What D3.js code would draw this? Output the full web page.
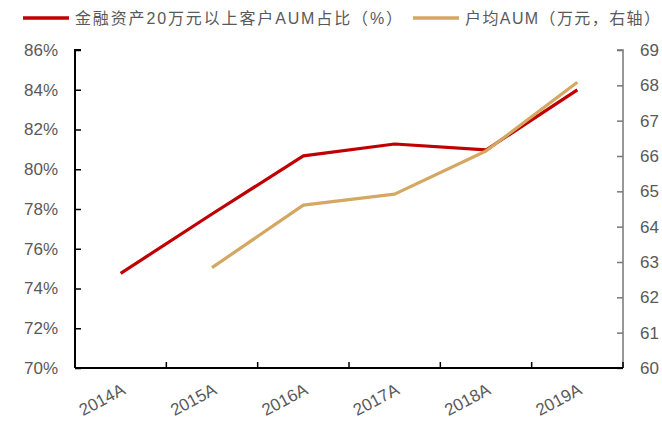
<!DOCTYPE html>
<html>
<head>
<meta charset="utf-8">
<script src="https://cdn.jsdelivr.net/npm/d3@7"></script>
<style>
  body { margin: 0; background: #fff; }
  text { font-family: Arial, "Liberation Sans", sans-serif; }
</style>
</head>
<body>
<svg id="chart" width="662" height="421"></svg>
<script>
const years = ["2014A", "2015A", "2016A", "2017A", "2018A", "2019A"]
const shareValues = [74.76, 77.75, 80.67, 81.27, 80.97, 83.99]
const aumYears = ["2015A", "2016A", "2017A", "2018A", "2019A"]
const aumValues = [62.84, 64.61, 64.92, 66.14, 68.09]
const leftTicks = [70, 72, 74, 76, 78, 80, 82, 84, 86]
const rightTicks = [60, 61, 62, 63, 64, 65, 66, 67, 68, 69]
const legendNames = ["金融资产20万元以上客户AUM占比（%）", "户均AUM（万元，右轴）"]

const svg = d3.select("#chart")
const plotLeft = 75, plotRight = 623, plotTop = 50, plotBottom = 368
const red = "#C00000", gold = "#D4A762", grey = "#595959"

let x = d3.scaleBand().domain(years).range([plotLeft, plotRight])
let yL = d3.scaleLinear().domain([70, 86]).range([plotBottom, plotTop])
let yR = d3.scaleLinear().domain([60, 69]).range([plotBottom, plotTop])

// left axis
let axL = svg.append("g")
    .attr("transform", "translate(" + plotLeft + ",0)")
    .call(d3.axisRight(yL).tickValues(leftTicks).tickSize(6).tickFormat(d => d + "%"))
axL.select(".domain").attr("stroke", "#000").attr("stroke-width", 2).attr("d", "M6," + plotTop + "H0V" + plotBottom)
axL.selectAll(".tick line").attr("stroke", "#000").attr("stroke-width", 1.5)
axL.selectAll(".tick text").attr("x", -17).attr("text-anchor", "end")
    .attr("fill", grey).style("font-size", "17px")

// right axis
let axR = svg.append("g")
    .attr("transform", "translate(" + plotRight + ",0)")
    .call(d3.axisLeft(yR).tickValues(rightTicks).tickSize(6))
axR.select(".domain").attr("stroke", "#777").attr("stroke-width", 1.5).attr("d", "M-6," + plotTop + "H0V" + plotBottom)
axR.selectAll(".tick line").attr("stroke", "#777").attr("stroke-width", 1.5)
axR.selectAll(".tick text").attr("x", 17).attr("text-anchor", "start")
    .attr("fill", grey).style("font-size", "17px")

// bottom axis, ticks at category boundaries pointing up
let bx = svg.append("g")
bx.append("line").attr("x1", plotLeft).attr("x2", plotRight).attr("y1", plotBottom).attr("y2", plotBottom)
    .attr("stroke", "#000").attr("stroke-width", 2)
bx.selectAll(".bt").data(years).enter().append("line")
    .attr("x1", d => x(d) + x.bandwidth())
    .attr("x2", d => x(d) + x.bandwidth())
    .attr("y1", plotBottom).attr("y2", plotBottom - 6)
    .attr("stroke", "#000").attr("stroke-width", 1.5)
bx.selectAll(".lbl").data(years).enter().append("text")
    .attr("transform", d => "translate(" + (x(d) + x.bandwidth() / 2 + 3) + "," + (plotBottom + 20) + ") rotate(-28)")
    .attr("text-anchor", "end")
    .attr("dy", "0.35em")
    .attr("fill", grey)
    .style("font-size", "17px")
    .text(d => d)

// lines
let cx = d => x(d) + x.bandwidth() / 2
svg.append("path")
    .datum(years.map((d, i) => [cx(d), yL(shareValues[i])]))
    .attr("fill", "none").attr("stroke", red).attr("stroke-width", 3.2)
    .attr("stroke-linejoin", "round")
    .attr("d", d3.line())
svg.append("path")
    .datum(aumYears.map((d, i) => [cx(d), yR(aumValues[i])]))
    .attr("fill", "none").attr("stroke", gold).attr("stroke-width", 3.2)
    .attr("stroke-linejoin", "round")
    .attr("d", d3.line())

// legend
const legendColors = [red, gold]
const legendX = [23, 413]
const legendLen = [327, 195]
legendNames.forEach((name, i) => {
    svg.append("line")
        .attr("x1", legendX[i]).attr("x2", legendX[i] + 46)
        .attr("y1", 18).attr("y2", 18)
        .attr("stroke", legendColors[i]).attr("stroke-width", 3.5)
    svg.append("text")
        .attr("x", legendX[i] + 52).attr("y", 18).attr("dy", "0.35em")
        .attr("fill", grey)
        .attr("textLength", legendLen[i])
        .attr("lengthAdjust", "spacing")
        .style("font-size", "16px")
        .style("font-family", "Arial, 'Noto Sans CJK SC', sans-serif")
        .text(name)
})
</script>
</body>
</html>
